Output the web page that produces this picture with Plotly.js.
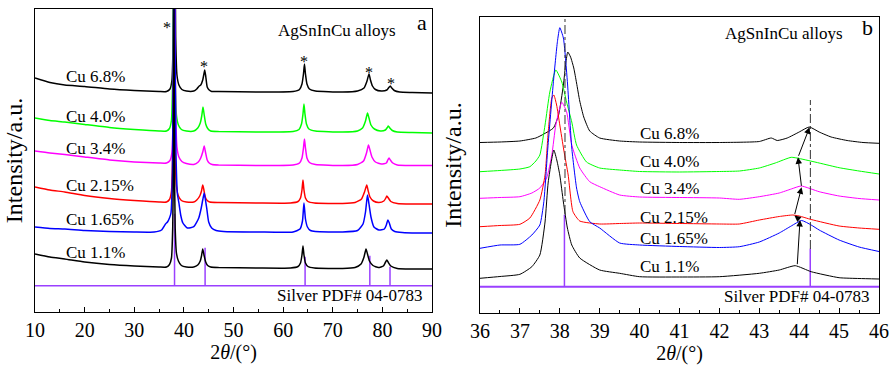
<!DOCTYPE html>
<html>
<head>
<meta charset="utf-8">
<script src="https://cdn.plot.ly/plotly-3.0.1.min.js"></script>
<style>html,body{margin:0;padding:0;background:#fff}#chart{width:892px;height:367px}</style>
</head>
<body>
<div id="chart"></div>
<script>
// ---------- Panel a: 2theta 10-90 ----------
var a68_x = [10, 13, 16, 20, 25, 30, 35, 36.5, 37.2, 37.6, 37.85, 38.0, 38.1, 38.2, 38.35, 38.6, 39.0, 39.6, 40.5, 42.0, 42.6, 43.1, 43.4, 43.8, 44.0, 44.2, 44.4, 44.7, 45.1, 45.6, 47, 55, 62, 63.3, 63.8, 64.1, 64.3, 64.5, 64.8, 65.3, 66.5, 72, 75, 76.3, 76.9, 77.3, 77.6, 78.0, 78.6, 79.8, 80.9, 81.3, 81.6, 81.9, 82.4, 83.5, 86, 90];
var a68_y = [234, 229.5, 227, 225.5, 223, 221.5, 220.5, 220.5, 223, 232, 275, 380, 450, 380, 275, 237, 227, 222.5, 221, 221, 223, 226, 227, 232, 237, 242, 236, 225, 222, 220.5, 220.5, 220, 220.5, 222.5, 228, 238, 248, 238, 228, 223, 221, 220, 221, 224, 231, 238, 232, 226, 222.5, 221, 222, 224.5, 226, 224, 221.5, 220, 219.5, 219];

var a40_x = [10, 13, 16, 20, 25, 30, 35, 36.5, 37.1, 37.5, 37.75, 37.9, 38.0, 38.1, 38.25, 38.5, 38.9, 39.5, 40.5, 42.0, 42.8, 43.3, 43.6, 43.85, 44.1, 44.4, 44.8, 45.4, 47, 55, 62, 63.2, 63.7, 64.0, 64.2, 64.4, 64.7, 65.2, 66.5, 72, 75, 76.0, 76.6, 77.0, 77.3, 77.7, 78.4, 79.6, 80.6, 81.0, 81.2, 81.5, 82.0, 83, 86, 90];
var a40_y = [194, 191.5, 190, 187.5, 184.5, 182.5, 181, 181, 183.5, 192, 235, 330, 420, 330, 235, 197, 187, 182.5, 181, 181, 184, 189, 196, 205, 197, 188, 183.5, 181, 180.5, 180, 180.5, 182.5, 188, 198, 208, 198, 188, 183, 181, 180, 181, 184, 191, 199, 194, 187, 183, 181, 182, 184.5, 186, 184, 181.5, 180, 179.5, 179];

var a34_x = [10, 13, 16, 20, 25, 30, 35, 36.5, 37.2, 37.6, 37.85, 38.0, 38.1, 38.2, 38.35, 38.6, 39.0, 39.6, 40.5, 42.0, 42.9, 43.4, 43.8, 44.1, 44.35, 44.7, 45.1, 45.7, 47, 55, 62, 63.3, 63.8, 64.1, 64.3, 64.5, 64.8, 65.3, 66.5, 72, 75, 76.2, 76.8, 77.2, 77.5, 77.9, 78.6, 79.8, 80.8, 81.1, 81.35, 81.6, 82.1, 83, 86, 90];
var a34_y = [161, 159, 157.5, 155, 152, 150, 149, 149, 151.5, 160, 200, 300, 400, 300, 200, 165, 155, 150.5, 148.5, 147.5, 150, 154, 160, 166, 160, 152, 149, 147.5, 147, 146.5, 147, 149, 154, 164, 173, 164, 154, 149.5, 147.5, 146.5, 147.5, 151, 159, 167, 162, 155, 150, 148, 149, 152, 154, 152, 149, 147, 146.5, 146.5];

var a215_x = [10, 13, 16, 20, 25, 30, 35, 36.5, 37.1, 37.5, 37.75, 37.9, 38.0, 38.1, 38.25, 38.5, 38.9, 39.5, 40.5, 42.0, 42.6, 43.2, 43.55, 43.8, 44.0, 44.3, 44.7, 45.2, 47, 55, 61.5, 63.0, 63.5, 63.8, 64.0, 64.2, 64.5, 65.0, 66.3, 72, 74.5, 75.8, 76.4, 76.85, 77.1, 77.5, 78.2, 79.3, 80.3, 80.7, 80.9, 81.2, 81.7, 83, 86, 90];
var a215_y = [125, 122, 120, 116.5, 113.5, 111.5, 110, 110, 112.5, 121, 160, 260, 380, 260, 160, 126, 116, 111.5, 110, 110, 112, 116, 121, 127, 123, 115, 111.5, 110, 109.5, 109, 109, 110.5, 114, 122, 132, 122, 114, 110.5, 109, 108.5, 109.5, 113, 120, 127, 122, 115, 111, 109.5, 111, 114, 116, 114, 110.5, 108.5, 108, 108];

var a165_x = [10, 13, 16, 20, 25, 30, 34, 35.5, 36.3, 36.7, 37.1, 37.4, 37.7, 37.9, 38.05, 38.2, 38.4, 38.7, 39.0, 39.4, 39.8, 40.7, 42.0, 43.0, 43.5, 43.8, 44.1, 44.35, 44.6, 45.0, 45.6, 46.5, 48, 55, 62, 63.4, 63.9, 64.2, 64.5, 64.9, 65.5, 66.5, 72, 75, 76.1, 76.6, 77.0, 77.3, 77.7, 78.3, 79.3, 80.4, 80.8, 81.1, 81.4, 81.8, 82.5, 84, 87, 90];
var a165_y = [85, 83.5, 83, 81.5, 80.5, 80, 80, 82, 88, 90, 94, 99, 140, 280, 420, 280, 160, 118, 109, 96, 89, 84, 85.3, 94, 104, 112, 119, 112, 104, 90, 84, 81.5, 80.5, 80, 80, 83, 91, 109, 93, 85, 81.5, 80.5, 80, 81.5, 88, 100, 117, 108, 95, 85, 82, 83, 87, 92, 89, 83, 80.5, 79.5, 79, 79];

var a11_x = [10, 13, 16, 20, 25, 30, 35, 36.5, 37.1, 37.5, 37.75, 37.9, 38.0, 38.1, 38.25, 38.5, 38.9, 39.5, 40.5, 42.0, 42.8, 43.3, 43.55, 43.8, 44.05, 44.4, 44.8, 45.4, 47, 55, 61.5, 63.0, 63.5, 63.8, 64.0, 64.2, 64.5, 65.0, 66.3, 72, 74.5, 75.7, 76.3, 76.7, 77.0, 77.4, 78.1, 79.2, 80.2, 80.6, 80.9, 81.2, 81.7, 83, 86, 90];
var a11_y = [58, 55, 53, 50, 47.5, 46, 45, 45, 47.5, 54, 84, 154, 330, 154, 84, 59, 51, 46.5, 45, 45, 47, 51, 56, 63, 57, 50, 46.5, 45, 44.5, 44, 44, 45.5, 49, 57, 66, 57, 49, 45.5, 44, 43.5, 44.5, 48, 55, 63, 58, 51, 46.5, 44.5, 46, 49.5, 52, 49.5, 46, 43.5, 43, 43];

// ---------- Panel b: 2theta 36-46 ----------
var b68_x = [36, 36.5, 37, 37.4, 37.6, 37.84, 37.97, 38.09, 38.15, 38.2, 38.27, 38.35, 38.42, 38.5, 38.6, 38.75, 39.0, 39.5, 40, 41, 42, 43, 43.3, 43.45, 43.7, 44.0, 44.25, 44.5, 44.8, 45.2, 45.6, 46];
var b68_y = [170.5, 171, 172, 175, 179, 185, 198, 228, 250, 261, 256, 245, 230, 212, 196, 182, 175, 172, 171, 170.5, 170.5, 171.5, 175, 172.5, 175, 181, 186, 181, 176, 172.5, 170.5, 169.7];

var b40_x = [36, 36.5, 37, 37.25, 37.4, 37.5, 37.63, 37.75, 37.9, 38.05, 38.17, 38.3, 38.42, 38.67, 39.0, 39.5, 40, 41, 42, 42.5, 43, 43.4, 43.8, 44.0, 44.5, 45, 45.5, 46];
var b40_y = [141.3, 142.5, 144, 146.3, 152, 158, 188, 221, 243, 231, 211, 191, 168, 151, 145, 143, 141.5, 141, 141.5, 142, 145, 150, 155.7, 154.5, 150, 145.3, 142, 139];

var b34_x = [36, 36.5, 37, 37.3, 37.5, 37.67, 37.8, 37.9, 38.05, 38.17, 38.3, 38.5, 38.75, 39, 39.5, 40, 41, 42, 42.5, 43, 43.5, 43.8, 44.05, 44.5, 45, 45.5, 46];
var b34_y = [114.7, 115.5, 116.3, 120, 125, 135, 158, 188, 210.7, 201.3, 168, 145, 131.3, 126.3, 118, 116, 115.5, 115, 113.7, 116.3, 120, 124, 127, 121.3, 117, 114.5, 113];

var b215_x = [36, 36.5, 37, 37.25, 37.5, 37.63, 37.71, 37.8, 37.85, 37.92, 38.0, 38.1, 38.21, 38.33, 38.5, 39, 39.5, 40, 41, 42, 42.5, 43, 43.5, 43.84, 44.0, 44.3, 45, 45.5, 46];
var b215_y = [86.3, 87.5, 88.7, 95, 113, 138, 181.3, 215, 218, 208, 188, 163, 138, 101.3, 92, 89, 89.5, 90, 89.5, 89, 89, 93, 96.5, 98, 97, 93.5, 87, 85, 83.7];

var b165_x = [36, 36.5, 37, 37.3, 37.5, 37.6, 37.7, 37.84, 37.94, 38.0, 38.09, 38.19, 38.3, 38.42, 38.5, 38.75, 39, 39.5, 40, 41, 42, 42.5, 43, 43.5, 43.8, 44.06, 44.3, 44.5, 45, 45.5, 46];
var b165_y = [64.7, 68, 68.7, 78, 88, 111.3, 165, 231.3, 271.3, 285.3, 275, 231.3, 165, 125, 111.3, 91.3, 85, 70, 68, 66.5, 65.5, 66.3, 71, 80, 87, 92.5, 88, 83, 73, 66, 61.5];

var b11_x = [36, 36.5, 37, 37.3, 37.5, 37.63, 37.71, 37.85, 37.93, 38.0, 38.09, 38.19, 38.3, 38.5, 39, 39.5, 40, 41, 42, 43, 43.5, 43.9, 44.3, 45, 45.5, 46];
var b11_y = [34.7, 36.5, 38.7, 46.3, 58, 91, 131, 163, 152, 138, 111, 85, 68, 55, 43, 39.7, 36.3, 36, 36.3, 39.7, 43, 47.3, 41.3, 35.3, 34.5, 34];

// ---------- Silver PDF# 04-0783 reference ----------
var refPos = [38.116, 44.277, 64.426, 77.472, 81.539];
var refHeight = [72, 38, 29, 30, 19];
var refBase = 26.3;

// ---------- labels ----------
var seriesNames = ["Cu 6.8%", "Cu 4.0%", "Cu 3.4%", "Cu 2.15%", "Cu 1.65%", "Cu 1.1%"];
var seriesColors = ["#000000", "#00ff00", "#ff00ff", "#ff0000", "#0000ff", "#000000"];
var labelYa = [235.3, 196, 164, 127, 93, 59.3];
var labelYb = [180, 151.3, 124.7, 95.7, 74.7, 46.3];
var starPos = [36.64, 44.13, 64.25, 77.33, 81.83];
var starY = [289, 250, 255, 244, 233];
// peak-shift guide lines (panel b)
var guideX = [38.13, 44.28];
var guideTop = [296, 213];
var guideBottom = [99, 64];
// arrow chain across the (200) peaks, Cu 1.1% -> Cu 6.8%
var arrowX = [43.95, 44.02, 43.88, 44.06, 43.97, 44.26];
var arrowY = [47.3, 93, 97.5, 125.7, 155.7, 185.7];

var FONT = "Liberation Serif, 'Times New Roman', serif";

var aX = [a68_x, a40_x, a34_x, a215_x, a165_x, a11_x];
var aY = [a68_y, a40_y, a34_y, a215_y, a165_y, a11_y];
var bX = [b68_x, b40_x, b34_x, b215_x, b165_x, b11_x];
var bY = [b68_y, b40_y, b34_y, b215_y, b165_y, b11_y];

var traces = [];
function refTraces(xa, ya, x0, x1, w) {
  var sx = [], sy = [];
  for (var i = 0; i < refPos.length; i++) {
    sx.push(refPos[i], refPos[i], null);
    sy.push(refBase, refBase + refHeight[i], null);
  }
  traces.push({x: [x0, x1], y: [refBase, refBase], xaxis: xa, yaxis: ya, mode: 'lines',
    line: {color: '#9a40ff', width: w}, hoverinfo: 'skip'});
  traces.push({x: sx, y: sy, xaxis: xa, yaxis: ya, mode: 'lines',
    line: {color: '#9a40ff', width: 1.5}, hoverinfo: 'skip'});
}
refTraces('x', 'y', 10, 90, 1.5);
refTraces('x2', 'y2', 36, 46, 2);

for (var i = 0; i < 6; i++) {
  traces.push({x: aX[i], y: aY[i], name: seriesNames[i], xaxis: 'x', yaxis: 'y', mode: 'lines',
    line: {color: seriesColors[i], width: 1.5, shape: 'spline', smoothing: 0.5}});
}
for (var i = 0; i < 6; i++) {
  traces.push({x: bX[i], y: bY[i], name: seriesNames[i], xaxis: 'x2', yaxis: 'y2', mode: 'lines',
    line: {color: seriesColors[i], width: 1, shape: 'spline', smoothing: 0.5}});
}
for (var g = 0; g < guideX.length; g++) {
  traces.push({x: [guideX[g], guideX[g]], y: [guideBottom[g], guideTop[g]], xaxis: 'x2', yaxis: 'y2',
    mode: 'lines', line: {color: '#333333', width: 1, dash: 'dashdot'}, hoverinfo: 'skip'});
}

var ann = [];
function txt(x, y, t, xr, yr, size, anchor, extra) {
  var o = {x: x, y: y, text: t, xref: xr, yref: yr, showarrow: false, xanchor: anchor || 'left',
    yanchor: 'middle', font: {family: FONT, size: size, color: '#000'}};
  if (extra) for (var k in extra) o[k] = extra[k];
  ann.push(o);
}
for (var i = 0; i < 6; i++) {
  txt(15.9, labelYa[i], seriesNames[i], 'x', 'y', 17, 'left');
  txt(39.96, labelYb[i], seriesNames[i], 'x2', 'y2', 17, 'left');
}
for (var s = 0; s < starPos.length; s++) {
  txt(starPos[s], starY[s], '*', 'x', 'y', 16, 'center', {yshift: -4});
}
txt(83.16, 282, 'AgSnInCu alloys', 'x', 'y', 17, 'right');
txt(45.16, 280, 'AgSnInCu alloys', 'x2', 'y2', 17, 'right');
txt(87.93, 290, 'a', 'x', 'y', 22, 'center');
txt(45.72, 286, 'b', 'x2', 'y2', 22, 'center');
txt(88.4, 16.3, 'Silver PDF# 04-0783', 'x', 'y', 17, 'right');
txt(45.81, 16.3, 'Silver PDF# 04-0783', 'x2', 'y2', 17, 'right');
for (var k = 0; k < arrowX.length - 1; k++) {
  ann.push({x: arrowX[k + 1], y: arrowY[k + 1], ax: arrowX[k], ay: arrowY[k], xref: 'x2', yref: 'y2',
    axref: 'x2', ayref: 'y2', text: '', showarrow: true, arrowhead: 2, arrowsize: 1.3, arrowwidth: 1,
    arrowcolor: '#000', standoff: 0, startstandoff: 0});
}

function xax(domain, range, dtick, minor, anchor) {
  return {domain: domain, range: range, anchor: anchor, dtick: dtick, tick0: range[0],
    ticks: 'inside', ticklen: 5, tickwidth: 1, tickcolor: '#000',
    minor: {ticks: 'inside', ticklen: 3, dtick: minor, tickcolor: '#000', tickwidth: 1},
    showline: true, mirror: true, linecolor: '#000', linewidth: 1.2, showgrid: false, zeroline: false,
    automargin: 'bottom',
    tickfont: {family: FONT, size: 20, color: '#000'},
    title: {text: '2<i>θ</i>/(°)', font: {family: FONT, size: 20, color: '#000'}, standoff: 0}};
}
function yax(domain, range, anchor, standoff) {
  return {domain: domain, range: range, anchor: anchor, showticklabels: false, ticks: '',
    showline: true, mirror: true, linecolor: '#000', linewidth: 1.2, showgrid: false, zeroline: false,
    automargin: 'left',
    title: {text: 'Intensity/a.u.', font: {family: FONT, size: 24, color: '#000'}, standoff: standoff}};
}

var layout = {
  width: 892, height: 367,
  margin: {l: 35, r: 13, t: 9, b: 54, pad: 0},
  paper_bgcolor: '#fff', plot_bgcolor: '#fff',
  showlegend: false,
  xaxis: xax([0, 0.47038], [10, 90], 10, 5, 'y'),
  yaxis: yax([0.00329, 1], [0, 303], 'x', 4),
  xaxis2: xax([0.52725, 1], [36, 46], 1, 0.5, 'y2'),
  yaxis2: yax([0, 0.97368], [0, 296], 'x2', 10),
  annotations: ann
};

Plotly.newPlot('chart', traces, layout, {displayModeBar: false, staticPlot: true});
</script>
</body>
</html>
